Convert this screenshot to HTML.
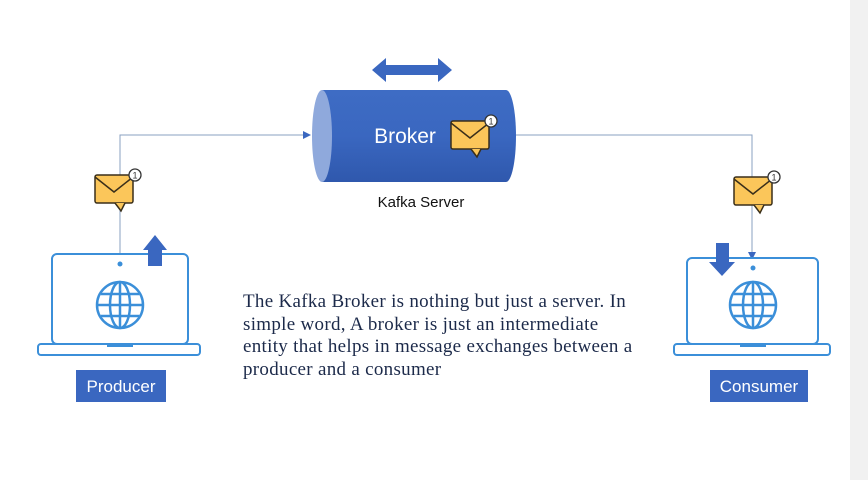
<!DOCTYPE html>
<html><head><meta charset="utf-8"><style>
html,body{margin:0;padding:0;background:#fff;}
body{width:868px;height:480px;overflow:hidden;position:relative;font-family:"Liberation Sans",sans-serif;}
.txt{position:absolute;left:243px;top:291px;font-family:"Liberation Serif",serif;font-size:19px;letter-spacing:0.3px;line-height:22.7px;color:#1c2a4a;white-space:nowrap;}
</style></head><body>
<svg width="868" height="480" style="position:absolute;left:0;top:0">
<defs>
<linearGradient id="cyl" x1="0" y1="0" x2="0" y2="1">
<stop offset="0" stop-color="#3e6cc4"/><stop offset="0.5" stop-color="#3a67c0"/><stop offset="1" stop-color="#2f58ad"/></linearGradient>
<g id="env">
<rect x="0" y="3" width="38" height="28" rx="2" fill="#fbc65a" stroke="#3a2f1a" stroke-width="1.5"/>
<path d="M0 5 L19 20 L38 5" fill="none" stroke="#3a2f1a" stroke-width="1.5"/>
<path d="M20 31 L26 39 L30 31" fill="#fbc65a" stroke="#3a2f1a" stroke-width="1.5"/>
<circle cx="40" cy="3" r="6" fill="#fff" stroke="#333" stroke-width="1.3"/>
<text x="40" y="6.5" font-size="9" text-anchor="middle" fill="#333" font-family="Liberation Sans">1</text>
</g>
<g id="globe" fill="none" stroke="#3b8fd9" stroke-width="2.5">
<circle r="23"/><ellipse rx="10" ry="23"/><line x1="-23" y1="0" x2="23" y2="0"/><line x1="-19" y1="-11" x2="19" y2="-11"/><line x1="-19" y1="11" x2="19" y2="11"/><line x1="0" y1="-23" x2="0" y2="23"/>
</g>
</defs>
<rect x="850" y="0" width="18" height="480" fill="#f1f1f1"/>
<polyline points="120,253 120,135 305,135" fill="none" stroke="#8aa0c0" stroke-width="1"/>
<path d="M303,131 L311,135 L303,139Z" fill="#3a67c0"/>
<polyline points="516,135 752,135 752,254" fill="none" stroke="#8aa0c0" stroke-width="1"/>
<path d="M748,252 L752,260 L756,252Z" fill="#3a67c0"/>
<path d="M372,70 L386,58 L386,65 L438,65 L438,58 L452,70 L438,82 L438,75 L386,75 L386,82Z" fill="#3a67c0"/>
<path d="M322,90 L506,90 A10,46 0 0 1 506,182 L322,182 Z" fill="url(#cyl)"/>
<ellipse cx="322" cy="136" rx="10" ry="46" fill="#8fa9dc"/>
<text x="405" y="143" font-size="21" fill="#fff" text-anchor="middle">Broker</text>
<use href="#env" x="451" y="118"/>
<text x="421" y="207" font-size="15" fill="#111" text-anchor="middle">Kafka Server</text>
<use href="#env" x="95" y="172"/>
<use href="#env" x="734" y="174"/>
<rect x="52" y="254" width="136" height="90" rx="5" fill="#fff" stroke="#3b8fd9" stroke-width="2"/>
<rect x="38" y="344" width="162" height="11" rx="3" fill="#fff" stroke="#3b8fd9" stroke-width="2"/>
<rect x="107" y="344" width="26" height="3" fill="#3b8fd9"/>
<circle cx="120" cy="264" r="2.5" fill="#3b8fd9"/>
<use href="#globe" x="120" y="305"/>
<path d="M148,266 L148,250 L143,250 L155,235 L167,250 L162,250 L162,266Z" fill="#3a67c0"/>
<rect x="76" y="370" width="90" height="32" fill="#3a67c0"/>
<text x="121" y="392" font-size="17" fill="#fff" text-anchor="middle">Producer</text>
<rect x="687" y="258" width="131" height="86" rx="5" fill="#fff" stroke="#3b8fd9" stroke-width="2"/>
<rect x="674" y="344" width="156" height="11" rx="3" fill="#fff" stroke="#3b8fd9" stroke-width="2"/>
<rect x="740" y="344" width="26" height="3" fill="#3b8fd9"/>
<circle cx="753" cy="268" r="2.5" fill="#3b8fd9"/>
<use href="#globe" x="753" y="305"/>
<path d="M716,243 L729,243 L729,262 L735,262 L722,276 L709,262 L716,262Z" fill="#3a67c0"/>
<rect x="710" y="370" width="98" height="32" fill="#3a67c0"/>
<text x="759" y="392" font-size="17" fill="#fff" text-anchor="middle">Consumer</text>
</svg>
<div class="txt">The Kafka Broker is nothing but just a server. In<br>simple word, A broker is just an intermediate<br>entity that helps in message exchanges between a<br>producer and a consumer</div>
</body></html>
